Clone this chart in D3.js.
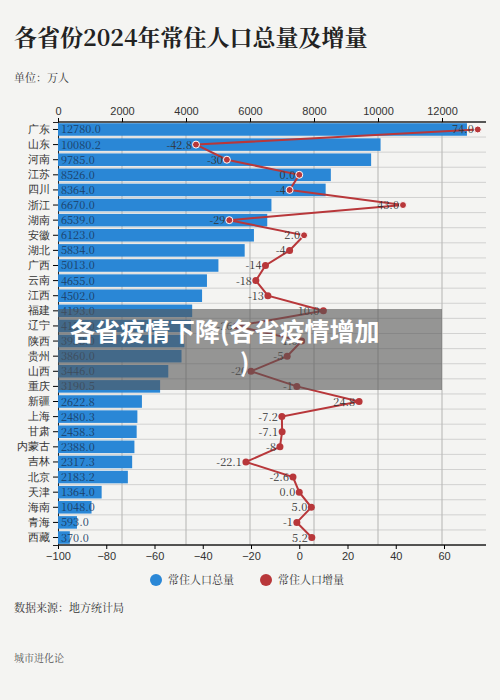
<!DOCTYPE html>
<html><head><meta charset="utf-8">
<script src="https://cdn.jsdelivr.net/npm/d3@7"></script>
<style>body{margin:0;background:#f4f4f2}svg{font-family:"Noto Serif CJK SC","Noto Sans CJK SC",serif}</style>
</head><body><svg id="c" width="500" height="700"></svg>
<script>
const provinces = ["广东","山东","河南","江苏","四川","浙江","湖南","安徽","湖北","广西","云南","江西","福建","辽宁","陕西","贵州","山西","重庆","新疆","上海","甘肃","内蒙古","吉林","北京","天津","海南","青海","西藏"]
const totals = [12780.0,10080.2,9785.0,8526.0,8364.0,6670.0,6539.0,6123.0,5834.0,5013.0,4655.0,4502.0,4193.0,4155.0,3953.0,3860.0,3446.0,3190.5,2622.8,2480.3,2458.3,2388.0,2317.3,2183.2,1364.0,1048.0,593.0,370.0]
const changes = [74.0,-42.8,-30,0.0,-4,43.0,-29,2.0,-4,-14,-18,-13,10.0,-26,1.0,-5,-20,-1,24.8,-7.2,-7.1,-8,-22.1,-2.6,0.0,5.0,-1,5.2]
const changeLabels = ["74.0","-42.8","-30","0.0","-4","43.0","-29","2.0","-4","-14","-18","-13","10.0","-26","1.0","-5","-20","-1","24.8","-7.2","-7.1","-8","-22.1","-2.6","0.0","5.0","-1","5.2"]
const topTicks = [0,2000,4000,6000,8000,10000,12000]
const bottomTicks = [-100,-80,-60,-40,-20,0,20,40,60]

const svg = d3.select("#c")
const blue = "#2a87d6", red = "#b8373a"
const x = d3.scaleLinear().domain([0, 12000]).range([58, 442])
const x2 = d3.scaleLinear().domain([-100, 60]).range([58, 444])
const y = d3.scaleBand().domain(provinces).range([122, 545]).paddingInner(0.17).paddingOuter(0.08)
const right = 486

svg.append("text").attr("x", 14).attr("y", 46).attr("font-size", 23).attr("font-weight", "bold").attr("fill", "#222").text("各省份2024年常住人口总量及增量")
svg.append("text").attr("x", 14).attr("y", 82).attr("font-size", 11).attr("fill", "#333").text("单位：万人")

// grid
svg.append("g").selectAll("line").data(topTicks.slice(1)).join("line")
  .attr("x1", d => x(d)).attr("x2", d => x(d)).attr("y1", 122).attr("y2", 545)
  .attr("stroke", "#999").attr("stroke-width", 0.7)
svg.append("g").selectAll("line").data(provinces).join("line")
  .attr("x1", 58).attr("x2", right)
  .attr("y1", d => y(d) + y.bandwidth() + y.step() * 0.085).attr("y2", d => y(d) + y.bandwidth() + y.step() * 0.085)
  .attr("stroke", "#bbb").attr("stroke-width", 0.6)

// axes
const ta = svg.append("g").attr("transform", "translate(0,122)").call(d3.axisTop(x).tickValues(topTicks).tickSize(4).tickFormat(d3.format("d")))
ta.select(".domain").attr("d", `M58,0H${right}`).attr("stroke", "#222").attr("stroke-width", 1.5)
ta.selectAll("text").attr("font-size", 11).attr("fill", "#333")
const ba = svg.append("g").attr("transform", "translate(0,545)").call(d3.axisBottom(x2).tickValues(bottomTicks).tickSize(4))
ba.select(".domain").attr("d", `M58,0H${right}`).attr("stroke", "#222").attr("stroke-width", 1.5)
ba.selectAll("text").attr("font-size", 11).attr("fill", "#333")
const la = svg.append("g").attr("transform", "translate(58,0)").call(d3.axisLeft(y).tickSize(5))
la.select(".domain").attr("stroke", "#222")
la.selectAll("text").attr("font-size", 11).attr("fill", "#333")

// bars
svg.append("g").selectAll("rect").data(totals).join("rect")
  .attr("x", x(0)).attr("y", (d, i) => y(provinces[i])).attr("width", d => x(d) - x(0)).attr("height", y.bandwidth())
  .attr("fill", blue)
svg.append("g").selectAll("text").data(totals).join("text")
  .attr("x", x(0) + 3).attr("y", (d, i) => y(provinces[i]) + y.bandwidth() / 2 + 4)
  .attr("font-size", 11).attr("fill", "#1a3e66").text(d => d.toFixed(1))

// line
const cy = i => y(provinces[i]) + y.bandwidth() / 2
svg.append("path").datum(changes)
  .attr("d", d3.line().x(d => x2(d)).y((d, i) => cy(i)))
  .attr("fill", "none").attr("stroke", red).attr("stroke-width", 2)
svg.append("g").selectAll("text").data(changeLabels).join("text")
  .attr("x", (d, i) => x2(changes[i]) - 4).attr("y", (d, i) => cy(i) + 4).attr("text-anchor", "end")
  .attr("font-size", 11).attr("fill", "#333").text(d => d)
svg.append("g").selectAll("circle").data(changes).join("circle")
  .attr("cx", d => x2(d)).attr("cy", (d, i) => cy(i)).attr("r", 3.5)
  .attr("fill", red).attr("stroke", (d, i) => i < 8 ? "#fff" : "none").attr("stroke-width", 1)

// legend
const lg = svg.append("g").attr("transform", "translate(0,580)")
lg.append("circle").attr("cx", 156).attr("cy", 0).attr("r", 6).attr("fill", blue)
lg.append("text").attr("x", 168).attr("y", 4).attr("font-size", 11).attr("fill", "#333").text("常住人口总量")
lg.append("circle").attr("cx", 266).attr("cy", 0).attr("r", 6).attr("fill", red)
lg.append("text").attr("x", 278).attr("y", 4).attr("font-size", 11).attr("fill", "#333").text("常住人口增量")

svg.append("text").attr("x", 14).attr("y", 612).attr("font-size", 11).attr("fill", "#333").text("数据来源：地方统计局")
svg.append("text").attr("x", 14).attr("y", 662).attr("font-size", 10).attr("fill", "#555").text("城市进化论")

// overlay caption
svg.append("rect").attr("x", 58).attr("y", 309).attr("width", 384).attr("height", 81).attr("fill", "#555").attr("opacity", 0.6)
svg.append("text").attr("x", 70).attr("y", 341).attr("font-family", "Noto Sans CJK SC").attr("font-size", 25).attr("font-weight", "bold").attr("fill", "#fff").text("各省疫情下降(各省疫情增加")
svg.append("text").attr("x", 240).attr("y", 372).attr("font-family", "Noto Sans CJK SC").attr("font-size", 25).attr("font-weight", "bold").attr("fill", "#fff").text(")")
</script></body></html>
